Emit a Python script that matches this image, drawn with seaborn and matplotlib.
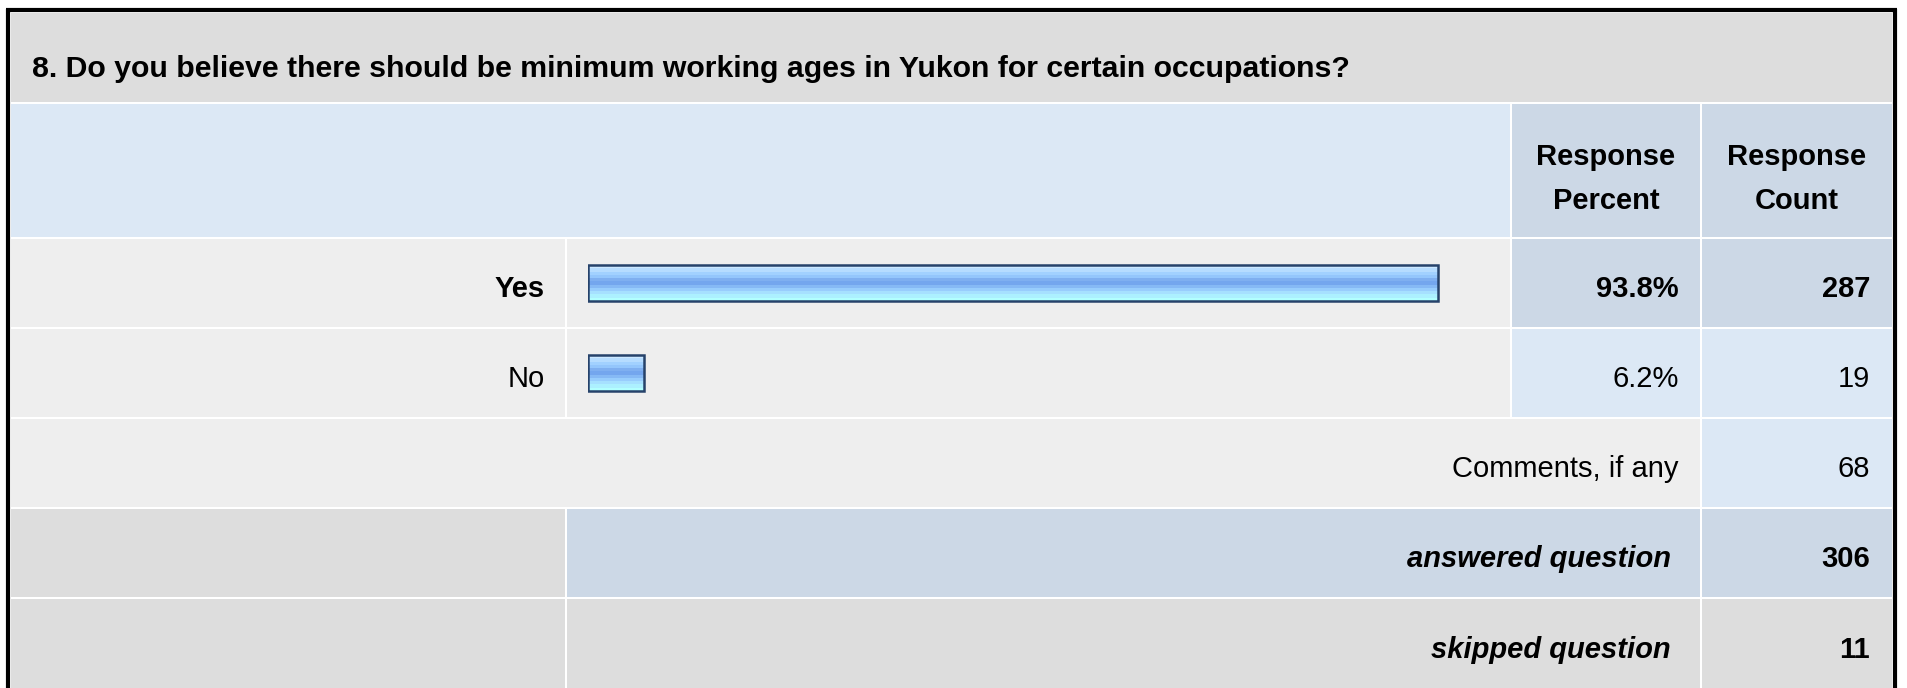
import matplotlib
matplotlib.use('Agg')
import matplotlib.pyplot as plt
import matplotlib.colors as mcolors
from matplotlib.patches import Rectangle
import numpy as np
import pandas as pd
import seaborn as sns

# survey data
question = '8. Do you believe there should be minimum working ages in Yukon for certain occupations?'
options = ['Yes', 'No']
percents = [93.8, 6.2]
counts = [287, 19]
comments_label = 'Comments, if any'
comments_count = 68
answered = 306
skipped = 11

df = pd.DataFrame({'option': options, 'percent': percents})

sns.set_theme(style='white')
plt.rcParams['font.family'] = ['Liberation Sans', 'DejaVu Sans']
plt.rcParams['text.color'] = 'black'

W, H = 1907, 688
fig = plt.figure(figsize=(W / 100, H / 100), dpi=100)
fig.patch.set_facecolor('white')

# background axes in pixel coords
bg = fig.add_axes([0, 0, 1, 1])
bg.set_xlim(0, W)
bg.set_ylim(H, 0)
bg.axis('off')

GRAY = '#dddddd'
LIGHT = '#eeeeee'
BLUE1 = '#dce8f5'
BLUE2 = '#ccd8e6'

def cell(x0, x1, y0, y1, color):
    bg.add_patch(Rectangle((x0 + 1, y0 + 1), x1 - x0 - 2, y1 - y0 - 2,
                           facecolor=color, edgecolor='none'))

L, R = 10, 1893
cL, cP, cC = 566, 1511, 1701
rows = [12, 103, 238, 328, 418, 508, 598, 690]

cell(L, R, rows[0], rows[1], GRAY)
cell(L, cP, rows[1], rows[2], BLUE1)
cell(cP, cC, rows[1], rows[2], BLUE2)
cell(cC, R, rows[1], rows[2], BLUE2)
for i, shade in enumerate([BLUE2, BLUE1]):
    cell(L, cL, rows[2 + i], rows[3 + i], LIGHT)
    cell(cL, cP, rows[2 + i], rows[3 + i], LIGHT)
    cell(cP, cC, rows[2 + i], rows[3 + i], shade)
    cell(cC, R, rows[2 + i], rows[3 + i], shade)
cell(L, cC, rows[4], rows[5], LIGHT)
cell(cC, R, rows[4], rows[5], BLUE1)
cell(L, cL, rows[5], rows[6], GRAY)
cell(cL, cC, rows[5], rows[6], BLUE2)
cell(cC, R, rows[5], rows[6], BLUE2)
cell(L, cL, rows[6], rows[7], GRAY)
cell(cL, cC, rows[6], rows[7], GRAY)
cell(cC, R, rows[6], rows[7], GRAY)

# outer frame (left, top, right)
bg.plot([8, 8], [H, 9], color='black', lw=3, solid_capstyle='butt')
bg.plot([6, 1897], [10, 10], color='black', lw=3, solid_capstyle='butt')
bg.plot([1895, 1895], [9, H], color='black', lw=3, solid_capstyle='butt')

fs = 21
dy = 6  # text optical centre offset
bg.text(32, 63 + dy, question, fontsize=21.8, fontweight='bold', ha='left', va='center')
for xc, lab in [((cP + cC) / 2, 'Response\nPercent'), ((cC + R) / 2, 'Response\nCount')]:
    bg.text(xc, 173 + dy, lab, fontsize=fs, fontweight='bold', ha='center', va='center',
            linespacing=1.74)

for i, (opt, p, c) in enumerate(zip(options, percents, counts)):
    yc = (rows[2 + i] + rows[3 + i]) / 2 + dy
    w = 'bold' if i == 0 else 'normal'
    bg.text(545, yc, opt, fontsize=fs, fontweight=w, ha='right', va='center')
    bg.text(1679, yc, f'{p:.1f}%', fontsize=fs, fontweight=w, ha='right', va='center')
    bg.text(1870, yc, str(c), fontsize=fs, fontweight=w, ha='right', va='center')

yc = (rows[4] + rows[5]) / 2 + dy
bg.text(1679, yc, comments_label, fontsize=fs, ha='right', va='center')
bg.text(1870, yc, str(comments_count), fontsize=fs, ha='right', va='center')
for k, (lab, val) in enumerate([('answered question', answered), ('skipped question', skipped)]):
    yc = (rows[5 + k] + rows[6 + k]) / 2 + dy
    bg.text(1671, yc, lab, fontsize=fs, fontweight='bold', style='italic',
            ha='right', va='center')
    bg.text(1870, yc, str(val), fontsize=fs, fontweight='bold', ha='right', va='center')

# bar axes: 0% at x=588, 100% at x=1494, rows 238..418
x0, x100 = 588, 1494
bax = fig.add_axes([x0 / W, 1 - rows[4] / H, (x100 - x0) / W, (rows[4] - rows[2]) / H])
bax.patch.set_alpha(0)
sns.barplot(data=df, x='percent', y='option', orient='h', width=0.4,
            color='#8dbff8', ax=bax)

stops = ['#cce8ff', '#b6dcff', '#a2d1ff', '#94c6fc', '#7faff0', '#74a6ee',
         '#86b9f5', '#98cdfd', '#a6e0ff', '#acf0ff', '#b2ffff']
grad = np.array([mcolors.to_rgb(s) for s in stops]).reshape(-1, 1, 3)
for patch in bax.patches:
    px, py = patch.get_x(), patch.get_y()
    pw, ph = patch.get_width(), patch.get_height()
    im = bax.imshow(grad, extent=[px, px + pw, py + ph, py], aspect='auto',
                    interpolation='nearest', zorder=1)
    im.set_clip_path(patch)
    patch.set_facecolor('none')
    patch.set_edgecolor('#26426a')
    patch.set_linewidth(1.8)
    patch.set_zorder(2)

bax.set_xlim(0, 100)
bax.set_ylim(1.5, -0.5)
bax.axis('off')

fig.savefig('out.png', dpi=100)
